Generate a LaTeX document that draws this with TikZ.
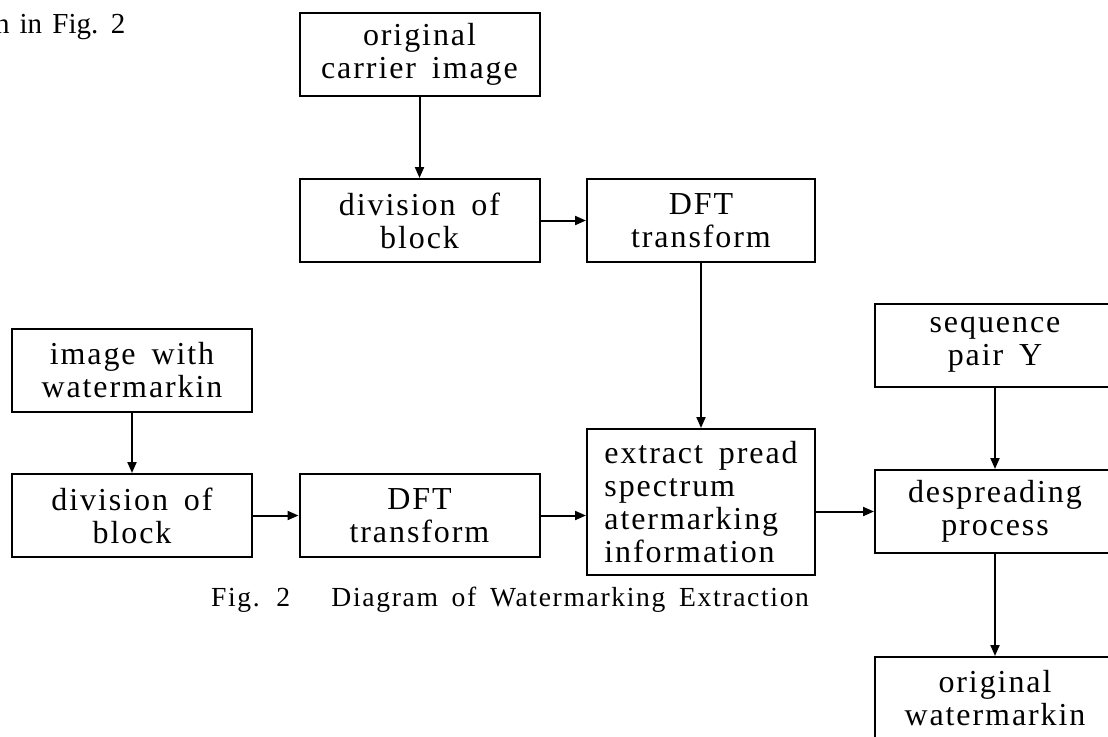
\documentclass[tikz,border=0pt]{standalone}
\usepackage{fontspec}
\setmainfont{Liberation Serif}
\newfontfamily\spacedfont{Liberation Serif}[LetterSpace=6,WordSpace=1.6]
\newfontfamily\pagefont{Liberation Serif}[WordSpace=1.4]
\usetikzlibrary{arrows.meta,positioning,calc}

\begin{document}
\begin{tikzpicture}[
        x=5pt, y=-5pt,
        font=\spacedfont\fontsize{16}{16.5}\selectfont,
        arrow/.style={-{Triangle[length=5.5pt,width=4.5pt]}, line width=1pt},
        block/.style={draw, line width=1pt, minimum width=120pt,
                      minimum height=41.5pt, inner sep=0pt, align=center},
        narrow/.style={block, minimum width=114pt},
        caption/.style={font=\spacedfont\fontsize{13.8}{16}\selectfont}
    ]
        \useasboundingbox (0,0) rectangle (110.8,73.6);
        \clip (0,0) rectangle (110.8,73.6);

        \node[anchor=base west, font=\pagefont\fontsize{14.5}{16}\selectfont] (prevtext) at (-1.2,3.3) {n in Fig. 2};

        \node[block] (carrier) at (41.95,5.45) {original\\carrier image};
        \node[block] (divtop) at (41.95,22.05) {division of\\block};
        \node[narrow] (dfttop) at (70.1,22.05) {DFT\\transform};

        \node[block] (wmimage) at (13.2,37.05) {image with\\watermarkin};
        \node[block] (divbot) at (13.2,51.55) {division of\\block};
        \node[block] (dftbot) at (41.95,51.55) {DFT\\transform};
        \node[narrow, minimum height=73pt, align=left] (extract) at (70.1,50.2)
              {extract pread\\spectrum\\atermarking\\information};

        \node[block] (seqpair) at (99.5,34.5) {sequence\\pair Y};
        \node[block] (despread) at (99.5,51.15) {despreading\\process};
        \node[block] (origwm) at (99.5,69.85) {original\\watermarkin};

        \draw[arrow] (carrier) -- (divtop);
        \draw[arrow] (divtop) -- (dfttop);
        \draw[arrow] (dfttop) -- (extract);
        \draw[arrow] (wmimage) -- (divbot);
        \draw[arrow] (divbot) -- (dftbot);
        \draw[arrow] (dftbot.east) -- (dftbot.east -| extract.west);
        \draw[arrow] (extract.east |- despread.west) -- (despread.west);
        \draw[arrow] (seqpair) -- (despread);
        \draw[arrow] (despread) -- (origwm);

        \node[caption] (figcap) at (51.0,60.0) {Fig. 2\hspace{1.5em}Diagram of Watermarking Extraction};
    \end{tikzpicture}
\end{document}
